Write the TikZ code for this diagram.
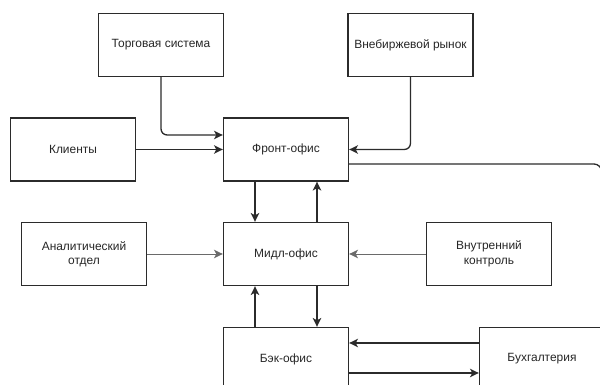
\documentclass[tikz,border=0pt]{standalone}
\usepackage{fontspec}
\setmainfont{Liberation Sans}
\usetikzlibrary{arrows.meta,calc}
\definecolor{ln}{HTML}{2B2B2B}
\definecolor{lt}{HTML}{6A6A6A}
\tikzset{
  box/.style={draw=ln, line width=0.8pt, fill=white, rectangle, minimum width=2.5cm, minimum height=1.26cm, inner sep=1pt, align=center, font=\fontsize{6.8}{8.2}\selectfont, text=black!85},
  conn/.style={draw=ln, line width=0.75pt, -{Stealth[length=5pt,width=4.8pt,inset=1.3pt]}, rounded corners=3.5pt},
  connlt/.style={conn, draw=lt, line width=0.55pt},
  plain/.style={draw=ln, line width=0.75pt, rounded corners=4.5pt}
}
\begin{document}
\begin{tikzpicture}[x=0.02cm,y=-0.02cm]
\useasboundingbox (0,0) rectangle (600,385);
\clip (0,0) rectangle (600,385);
\node[box] (torg) at (161,45) {Торговая система};
\node[box] (vneb) at (410.5,45) {Внебиржевой рынок};
\node[box] (klient) at (73,149.5) {Клиенты};
\node[box] (front) at (286,149.5) {Фронт-офис};
\node[box] (anal) at (84,254) {Аналитический\\отдел};
\node[box] (midl) at (286,254) {Мидл-офис};
\node[box] (vnutr) at (489,254) {Внутренний\\контроль};
\node[box] (bek) at (286,359) {Бэк-офис};
\node[box] (buh) at (542,359) {Бухгалтерия};
\coordinate (edge) at (601.8,420);
% top inputs
\draw[conn] (torg.south) |- ($(front.west)+(0,-14.5)$);
\draw[conn] (klient.east) -- (front.west);
\draw[conn] (vneb.south) |- (front.east);
\draw[plain] ($(front.east)+(0,14.5)$) -| (edge);
% front <-> midl
\draw[conn] ($(front.south)+(-31,0)$) -- ($(midl.north)+(-31,0)$);
\draw[conn] ($(midl.north)+(31,0)$) -- ($(front.south)+(31,0)$);
% side inputs
\draw[connlt] (anal.east) -- (midl.west);
\draw[connlt] (vnutr.west) -- (midl.east);
% midl <-> bek
\draw[conn] ($(bek.north)+(-31,0)$) -- ($(midl.south)+(-31,0)$);
\draw[conn] ($(midl.south)+(31,0)$) -- ($(bek.north)+(31,0)$);
% bek <-> buh
\draw[conn] ($(buh.west)+(0,-16)$) -- ($(bek.east)+(0,-16)$);
\draw[conn] ($(bek.east)+(0,14)$) -- ($(buh.west)+(0,14)$);
\end{tikzpicture}
\end{document}
